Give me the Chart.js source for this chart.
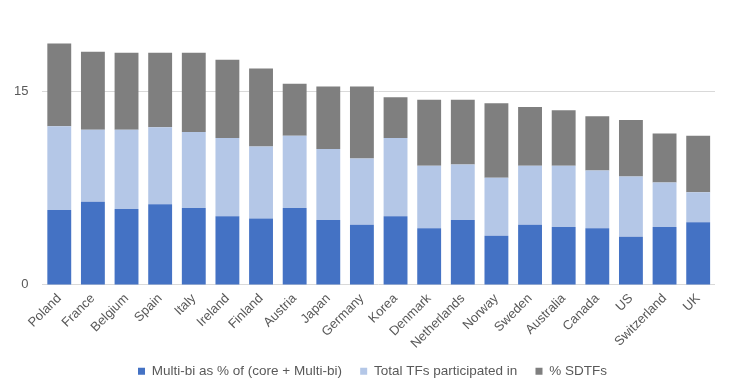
<!DOCTYPE html>
<html>
<head>
<meta charset="utf-8">
<script src="https://cdn.jsdelivr.net/npm/chart.js@4"></script>
<style>
  html, body { margin: 0; padding: 0; background: #fff; }
  #wrap { width: 733px; height: 383px; }
</style>
</head>
<body>
<div id="wrap"><canvas id="myChart" width="733" height="383"></canvas></div>
<script>
var countries = ["Poland","France","Belgium","Spain","Italy","Ireland","Finland","Austria","Japan","Germany",
  "Korea","Denmark","Netherlands","Norway","Sweden","Australia","Canada","US","Switzerland","UK"];
// Multi-bi as % of (core + Multi-bi)
var multiBi = [5.80,6.44,5.89,6.26,5.97,5.32,5.14,5.97,5.04,4.67,5.32,4.39,5.04,3.81,4.67,4.49,4.39,3.74,4.49,4.86];
// Total TFs participated in
var totalTFs = [6.50,5.60,6.15,5.96,5.89,6.07,5.60,5.60,5.50,5.14,6.07,4.85,4.30,4.49,4.57,4.75,4.48,4.66,3.45,2.33];
// % SDTFs
var sdtfs = [6.43,6.05,5.97,5.79,6.15,6.07,6.05,4.03,4.85,5.58,3.16,5.11,5.01,5.79,4.56,4.30,4.20,4.39,3.81,4.38];
var yTicks = [0, 15];

var txt = "#595959";
var fnt = { family: "'Liberation Sans', Arial, sans-serif", size: 13 };
var legendFnt = { family: "'Liberation Sans', Arial, sans-serif", size: 13.5 };

// legend sits centred under the plot area, not the whole canvas
var legendShift = {
  id: "legendShift",
  afterLayout: function(chart) {
    chart.legend.left += 15;
    chart.legend.right += 15;
  }
};

var ctx = document.getElementById("myChart").getContext("2d");
var myChart = new Chart(ctx, {
  type: "bar",
  data: {
    labels: countries,
    datasets: [
      { label: "Multi-bi as % of (core + Multi-bi)", data: multiBi, backgroundColor: "#4472C4" },
      { label: "Total TFs participated in", data: totalTFs, backgroundColor: "#B4C7E7" },
      { label: "% SDTFs", data: sdtfs, backgroundColor: "#7F7F7F" }
    ]
  },
  options: {
    responsive: false,
    animation: false,
    layout: { padding: { left: 0, right: 18, top: 27, bottom: -5 } },
    datasets: { bar: { barPercentage: 0.71, categoryPercentage: 1 } },
    scales: {
      x: {
        stacked: true,
        grid: { display: false, drawTicks: false },
        border: { display: false },
        ticks: { color: txt, font: fnt, minRotation: 45, maxRotation: 45, padding: 6, autoSkip: false },
        afterFit: function(scale) {
          // rotated labels may hang past the plot edge, like in Excel
          scale.paddingLeft = 0;
          scale.paddingRight = 0;
        }
      },
      y: {
        stacked: true,
        min: 0,
        max: 20,
        afterBuildTicks: function(axis) {
          axis.ticks = yTicks.map(function(v){ return { value: v }; });
        },
        grid: { color: "#D9D9D9", drawTicks: false },
        border: { display: false },
        ticks: { color: txt, font: fnt, padding: 14 }
      }
    },
    plugins: {
      tooltip: { enabled: false },
      legend: {
        position: "bottom",
        labels: {
          color: txt,
          font: legendFnt,
          boxWidth: 7,
          boxHeight: 7,
          padding: 7,
          generateLabels: function(chart) {
            var items = Chart.defaults.plugins.legend.labels.generateLabels(chart);
            items.forEach(function(it, i){
              if (i < items.length - 1) it.text = it.text + "   ";
            });
            return items;
          }
        }
      }
    }
  },
  plugins: [legendShift]
});
</script>
</body>
</html>
